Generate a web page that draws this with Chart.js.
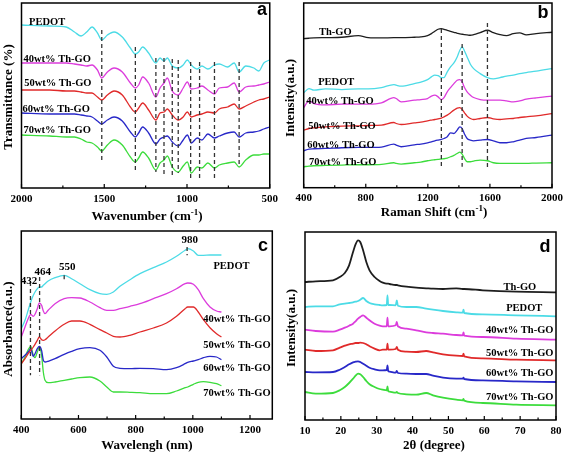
<!DOCTYPE html>
<html><head><meta charset="utf-8">
<script src="https://cdn.jsdelivr.net/npm/chart.js@4.4.0/dist/chart.umd.min.js"></script>
<style>
html,body{margin:0;padding:0;background:#fff;}
#wrap{position:relative;width:567px;height:454px;overflow:hidden;}
canvas{position:absolute;}
</style></head><body>
<div id="wrap">
<canvas id="ca" width="283" height="227" style="left:0;top:0"></canvas>
<canvas id="cb" width="284" height="227" style="left:283px;top:0"></canvas>
<canvas id="cc" width="283" height="227" style="left:0;top:227px"></canvas>
<canvas id="cd" width="284" height="227" style="left:283px;top:227px"></canvas>
</div>
<script>
// ---------- (a) FTIR ----------
const wnA = [2000,1830,1730,1680,1640,1606,1574,1541,1515,1481,1441,1391,1342,1312,1292,1268,1232,1188,1163,1139,1119,1089,1053,1023,998,974,938,910,874,834,805,755,715,685,645,596,566,536,500];
const pedotA = [163,162,161,156,152,156,161,155,148,153,156,151,140,134,136,141,135,125,130,127,130,122,120,123,128,123,119,122,119,123,124,121,125,116,122,120,117,125,128];
const a40 = [125,125,125,124,123,122,123,118,110,116,120,116,105,100,103,111,105,91,100,105,110,97,93,100,106,99,100,102,98,94,100,101,105,96,101,102,103,104,106];
const a50 = [98,98,97,97,96,95,95,91,88,93,97,93,81,76,80,85,78,68,75,76,79,73,68,71,76,71,73,74,76,75,79,81,84,79,82,86,88,89,91];
const a60 = [75,74,74,74,73,72,71,67,64,68,71,67,56,51,55,61,55,44,49,51,52,46,42,48,53,45,50,48,54,50,52,55,56,51,55,56,57,59,61];
const a70 = [53,52,51,51,49,46,45,41,37,43,48,43,31,26,30,36,30,18,25,28,32,21,16,22,26,15,21,20,25,20,23,25,26,21,28,33,33,34,34];
const dashXA = [1515,1312,1188,1139,1089,1053,978,924,834,685];
const dashTopA = [158,141,130,130,129,128,126,126,126,126];
const dashBotA = [25,16,16,11,10,15,10,8,8,21];
const majorA = [2000,1500,1000,500];
const minorA = [1750,1250,750];
const labelTextA = ["PEDOT","40wt% Th-GO","50wt% Th-GO","60wt% Th-GO","70wt% Th-GO"];
const labelXA = [1954,1988,1984,1994,1988];
const labelYA = [166,128.7,104.7,78.7,58];

// ---------- (b) Raman ----------
const shiftB = [400,434,466,540,646,752,816,901,981,996,1028,1113,1155,1198,1223,1245,1266,1287,1304,1325,1346,1368,1389,1406,1421,1436,1453,1474,1495,1537,1584,1622,1665,1707,1750,1792,1834,1898,2000];
const thgoB = [149.3,149.7,150,150.3,150.7,152.3,150.3,150,150.3,150.3,150.3,150.7,151,152.3,154.3,156.7,158.7,159.3,158.7,157.7,156.7,155.7,154.7,154,153.7,153.3,153,152.7,153.3,155.3,157.7,155.3,153.3,152.3,154.3,155,153,154.3,155.7];
const pedotB = [95,99.3,97.7,99,98.3,99,99,100.3,103.3,102.7,101.7,104.3,105.7,108.3,111,112.7,112.3,110.3,110.3,116,121,125,131,137.7,141,137,131,123.7,119.3,114.3,110.3,109,110.3,111.7,112.7,114.3,115.3,116.7,119.3];
const b40 = [80.3,87,84.3,83,83.7,83.7,83.7,85,90.3,89.3,86,87.7,88.3,89.3,91.7,92.7,91,88.3,90.3,96,100.3,104.3,107.7,108.3,106,100.3,96,92.7,90.3,88.3,87.7,87.7,87.7,87,86,87,88.7,90,91.7];
const b50 = [57.7,59.3,60,61,61.7,62,62.3,62.7,65.3,64.3,63.3,65,65.7,67,67.7,68.3,69,69.7,71,72.7,75,77.7,79.7,80.3,78.3,75,71.7,69.3,68.3,69.3,70.3,69,68.3,69,69.3,70.3,71,72,74.3];
const b60 = [37,38.7,39,39.3,40,40.3,40.3,40.7,43.7,42.7,41,43,43.7,45,46,47,47.7,48.3,49.3,51,55,54.3,57.7,61,59.3,53.7,49.3,47.7,47,47.7,48.3,47,45,45,46,47.7,49.3,50.3,52.7];
const b70 = [21,21.7,22,22.3,22.7,23,23,23.3,25,24.3,23.7,25,25.7,27,27.7,28,28.3,28.7,29,29.7,31,32.3,34.3,35.7,33.7,29.3,26,26,26.7,27.7,27,25,24.3,24.3,24.3,24.3,24.3,24.7,25];
const dashXB = [1287,1421,1584];
const dashTopB = [159,144,165];
const dashBotB = [21,21,19];
const majorB = [400,800,1200,1600,2000];
const minorB = [600,1000,1400,1800];
const labelTextB = ["Th-GO","PEDOT","40wt% Th-GO","50wt% Th-GO","60wt% Th-GO","70wt% Th-GO"];
const labelXB = [498,493,417,430,423,434];
const labelYB = [155.3,105.3,87,61.7,42.7,25];

// ---------- (c) UV-vis ----------
const nmC = [400,413,424,433,442,448,456,463,471,477,483,494,518,550,576,605,640,675,699,722,745,780,815,862,908,943,973,982,1002,1019,1037,1060,1083,1100];
const pedotC = [90.3,98.7,108.7,117,123.7,127,130.3,132,132,133.7,135.3,138,141.3,143.7,140.3,135.3,129.3,125.3,124.7,127,132.7,139.3,145.3,151.3,157,162.7,168.7,170.3,168,163.7,163.7,164,164,164];
const c40 = [82,92,100.3,104.7,102.7,104.7,110.3,116,113.7,108,105.3,108.7,115.3,120.3,121.3,121,117,111.3,108.7,108.7,110.3,112.7,115.3,120.3,125.3,130.3,135.3,136,134.7,129.3,120.3,112,108,107];
const c50 = [55.3,60.3,65.3,68.7,72,74.7,78.7,82,79.3,78.7,79.3,82,88,94.7,98,98,94.7,89.3,86,82.7,82,83.7,87,91,96,102.7,110.3,112,112,107,99.3,91.3,85.3,82];
const c60 = [60.3,63.7,67,70.3,62.7,65.3,70.3,72.7,68.7,58.7,57,57.7,60.3,64.7,67.7,70.3,71.3,68.7,62,52.7,50.7,50.3,50.7,50.3,49.3,51.3,55.3,56.7,58,59.3,61.3,62.7,62,59.3];
const c70 = [55.3,62,69.3,72.7,63.7,61.3,67,71.3,63.7,47,38.7,36.3,37,38.7,40,41.3,42,38,32,27,27,26.7,26.3,25.3,25.3,28,31.3,32,34.7,36.7,37.3,36.7,35.3,33.3];
const dashXC = [432,464,550,980];
const dashTopC = [137,142,143.7,172];
const dashBotC = [43.7,43.7,138.7,163.7];
const majorC = [400,600,800,1000,1200];
const minorC = [500,700,900,1100];
const labelTextC = ["980","550","464","432","PEDOT","40wt% Th-GO","50wt% Th-GO","60wt% Th-GO","70wt% Th-GO"];
const labelXC = [989,561,475,427,1072,1272,1272,1272,1272];
const labelYC = [178.7,152,147,137.7,153,99.7,73.7,50.3,25.3];

// ---------- (d) XRD ----------
const thetaD = [10,13,17.8,19.7,21.1,22.3,23.4,24.1,24.8,25.4,26.2,27.1,28,29.4,30.8,31.7,32.8,33,33.2,33.6,35.3,35.6,35.9,38.3,41,43.8,45.7,48.5,52.2,54,54.2,54.4,59.6,68.9,80];
const thgoD = [138,138.7,139.7,143,147,154.7,168,175.7,179.7,178,169.7,158,149.7,143,139,137.3,136.3,136.3,136.3,136,135,135,134.7,133.3,132.3,131.7,131.3,131,131.7,131,131,131,129.7,128.3,127.7];
const pedotD = [113,113.7,113.7,115.7,116.3,117,117.7,118.3,119,120.3,122,119,117,115.7,115,114.7,115,124.7,115,115,114.7,119.7,114.3,113,113,111.3,110.3,109,107.7,107.3,110.3,107,105.7,104.7,103.7];
const d40 = [90.3,89,88.3,90.3,92.3,94.3,96.3,98.7,101.3,103,104.7,102.3,99.7,96.3,94.3,93.7,93.7,102.3,93.7,93.7,94.7,98,93.7,91.3,89.7,87.7,87,86.3,85,84.7,87.7,84.3,83,81.3,80.3];
const d50 = [70.3,69,69.7,72.3,74.3,75.7,76.3,77,77,77.3,77,75.7,73.7,71.3,69.7,70.3,70.3,76.3,70.3,70.3,71,73,70.3,68.3,68,69,67.7,65.7,64.3,64,66.3,63.7,61.7,60.3,59.7];
const d60 = [48,47.7,48,50.3,53,55.7,57.7,58.3,58.7,58,56.3,54.3,52.3,50.7,49.7,49.7,50,54.7,49,48.3,47.3,49,47,46.3,46,46,44.3,42.3,41.3,41.3,42.3,41,39.7,38.7,38];
const d70 = [28,26.3,27,29.7,33,37,41.3,44.3,46.3,45.7,43,39,35.7,33,31,30.3,29.7,33.7,29,28.3,27.3,28,27,25.7,25.3,27,24.7,22.3,20.3,19.7,21,19.3,17,15.3,14.7];
const majorD = [10,20,30,40,50,60,70,80];
const minorD = [15,25,35,45,55,65,75];
const labelTextD = ["Th-GO","PEDOT","40wt% Th-GO","50wt% Th-GO","60wt% Th-GO","70wt% Th-GO"];
const labelXD = [74.5,76.2,79.3,79.3,79.3,79.3];
const labelYD = [133,111.3,89.7,67,46.3,23];

// ---------- styling / rendering ----------
const SERIF = "'Liberation Serif','Times New Roman',serif";
const SANS = "'Liberation Sans',Arial,sans-serif";
const COL = {cyan:'#4cdbe6', mag:'#dc3cdc', red:'#e02a2a', blue:'#2828c8', green:'#3cdc3c', black:'#1e1e1e'};

const deco = {
  id: 'deco',
  afterDraw(chart) {
    const o = chart.options.plugins.deco;
    const ctx = chart.ctx, a = chart.chartArea, xs = chart.scales.x, ys = chart.scales.y;
    ctx.save();
    ctx.strokeStyle = '#000'; ctx.lineWidth = 1.5;
    ctx.strokeRect(a.left, a.top, a.right - a.left, a.bottom - a.top);
    ctx.lineWidth = 1.2;
    ctx.beginPath();
    o.major.forEach(v => { const x = xs.getPixelForValue(v); ctx.moveTo(x, a.bottom); ctx.lineTo(x, a.bottom - 4); });
    o.minor.forEach(v => { const x = xs.getPixelForValue(v); ctx.moveTo(x, a.bottom); ctx.lineTo(x, a.bottom - 2.5); });
    ctx.stroke();
    ctx.fillStyle = '#000';
    // curve labels
    o.labels.text.forEach((t, i) => {
      const isNum = /^\d+$/.test(t);
      ctx.font = `bold ${isNum ? 11 : 10.5}px ${SERIF}`;
      ctx.textAlign = o.labels.align[i];
      ctx.textBaseline = 'middle';
      ctx.fillText(t, xs.getPixelForValue(o.labels.x[i]), ys.getPixelForValue(o.labels.y[i]));
    });
    // x title with superscript
    const sz = 13;
    let w = 0;
    o.xTitle.forEach(p => { ctx.font = `bold ${p.sup ? 9 : sz}px ${SERIF}`; p.w = ctx.measureText(p.t).width; w += p.w; });
    let x = o.xTitlePos[0] - w / 2;
    ctx.textAlign = 'left'; ctx.textBaseline = 'alphabetic';
    o.xTitle.forEach(p => { ctx.font = `bold ${p.sup ? 9 : sz}px ${SERIF}`; ctx.fillText(p.t, x, o.xTitlePos[1] - (p.sup ? 5.5 : 0)); x += p.w; });
    // y title
    ctx.save();
    ctx.translate(o.yTitlePos[0], o.yTitlePos[1]);
    ctx.rotate(-Math.PI / 2);
    ctx.font = `bold ${sz}px ${SERIF}`;
    ctx.textAlign = 'center'; ctx.textBaseline = 'alphabetic';
    ctx.fillText(o.yTitle, 0, 0);
    ctx.restore();
    // panel letter
    ctx.font = `bold 18px ${SANS}`;
    ctx.textAlign = 'center'; ctx.textBaseline = 'alphabetic';
    ctx.fillText(o.letter, o.letterPos[0], o.letterPos[1]);
    ctx.restore();
  }
};

function makeChart(id, c) {
  const ds = [];
  c.series.forEach(s => ds.push({
    data: c.xs.map((x, i) => ({x, y: s.y[i]})),
    borderColor: s.color, borderWidth: c.lw, pointRadius: 0,
    cubicInterpolationMode: 'monotone', fill: false, order: 1
  }));
  c.dash.x.forEach((x, i) => ds.push({
    data: [{x, y: c.dash.top[i]}, {x, y: c.dash.bot[i]}],
    borderColor: '#333', borderWidth: 1.3, borderDash: [4, 3], pointRadius: 0, tension: 0, fill: false, order: 0
  }));
  new Chart(document.getElementById(id), {
    type: 'line',
    data: {datasets: ds},
    options: {
      responsive: false, animation: false, devicePixelRatio: 1,
      layout: {padding: c.pad},
      plugins: {legend: {display: false}, tooltip: {enabled: false}, deco: c.deco},
      scales: {
        x: {
          type: 'linear', min: c.xmin, max: c.xmax, reverse: !!c.reverse,
          afterFit: s => { s.height = c.xh; },
          grid: {display: false, drawTicks: false}, border: {display: false},
          ticks: {stepSize: c.step, includeBounds: false, autoSkip: false, maxRotation: 0,
                  padding: c.tickPad, color: '#000',
                  font: {family: SERIF, size: 11, weight: 'bold'},
                  callback: v => String(v)}
        },
        y: {display: false, min: 0, max: c.ymax}
      }
    },
    plugins: [deco]
  });
}

makeChart('ca', {
  xs: wnA, xmin: 500, xmax: 2000, reverse: true, step: 500, ymax: 185, lw: 1.3,
  pad: {left: 21.5, top: 3, right: 10.5, bottom: 0}, xh: 39, tickPad: 5,
  series: [{y: pedotA, color: COL.cyan}, {y: a40, color: COL.mag}, {y: a50, color: COL.red}, {y: a60, color: COL.blue}, {y: a70, color: COL.green}],
  dash: {x: dashXA, top: dashTopA, bot: dashBotA},
  deco: {major: majorA, minor: minorA,
    labels: {text: labelTextA, x: labelXA, y: labelYA, align: ['left','left','left','left','left']},
    xTitle: [{t: 'Wavenumber (cm'}, {t: '-1', sup: true}, {t: ')'}], xTitlePos: [147, 220],
    yTitle: 'Transmittance (%)', yTitlePos: [11.5, 97], letter: 'a', letterPos: [262, 15]}
});

makeChart('cb', {
  xs: shiftB, xmin: 400, xmax: 2000, step: 400, ymax: 185, lw: 1.3,
  pad: {left: 20.7, top: 3, right: 11.7, bottom: 0}, xh: 39.3, tickPad: 4,
  series: [{y: thgoB, color: COL.black}, {y: pedotB, color: COL.cyan}, {y: b40, color: COL.mag}, {y: b50, color: COL.red}, {y: b60, color: COL.blue}, {y: b70, color: COL.green}],
  dash: {x: dashXB, top: dashTopB, bot: dashBotB},
  deco: {major: majorB, minor: minorB,
    labels: {text: labelTextB, x: labelXB, y: labelYB, align: ['left','left','left','left','left','left']},
    xTitle: [{t: 'Raman Shift (cm'}, {t: '-1', sup: true}, {t: ')'}], xTitlePos: [151, 216],
    yTitle: 'Intensity(a.u.)', yTitlePos: [11, 98], letter: 'b', letterPos: [260, 18]}
});

makeChart('cc', {
  xs: nmC, xmin: 400, xmax: 1278, step: 200, ymax: 188, lw: 1.3,
  pad: {left: 21.3, top: 4, right: 10.7, bottom: 0}, xh: 35, tickPad: 5,
  series: [{y: pedotC, color: COL.cyan}, {y: c40, color: COL.mag}, {y: c50, color: COL.red}, {y: c60, color: COL.blue}, {y: c70, color: COL.green}],
  dash: {x: dashXC, top: dashTopC, bot: dashBotC},
  deco: {major: majorC, minor: minorC,
    labels: {text: labelTextC, x: labelXC, y: labelYC, align: ['center','center','center','center','left','right','right','right','right']},
    xTitle: [{t: 'Wavelengh (nm)'}], xTitlePos: [147, 222],
    yTitle: 'Absorbance(a.u.)', yTitlePos: [11.5, 102], letter: 'c', letterPos: [263, 24]}
});

makeChart('cd', {
  xs: thetaD, xmin: 10, xmax: 80, step: 10, ymax: 188, lw: 1.8,
  pad: {left: 22, top: 5, right: 11, bottom: 0}, xh: 34, tickPad: 5,
  series: [{y: thgoD, color: COL.black}, {y: pedotD, color: COL.cyan}, {y: d40, color: COL.mag}, {y: d50, color: COL.red}, {y: d60, color: COL.blue}, {y: d70, color: COL.green}],
  dash: {x: [], top: [], bot: []},
  deco: {major: majorD, minor: minorD,
    labels: {text: labelTextD, x: labelXD, y: labelYD, align: ['right','right','right','right','right','right']},
    xTitle: [{t: '2θ (degree)'}], xTitlePos: [151, 222],
    yTitle: 'Intensity(a.u.)', yTitlePos: [12, 101], letter: 'd', letterPos: [262, 25]}
});
</script>
</body></html>
